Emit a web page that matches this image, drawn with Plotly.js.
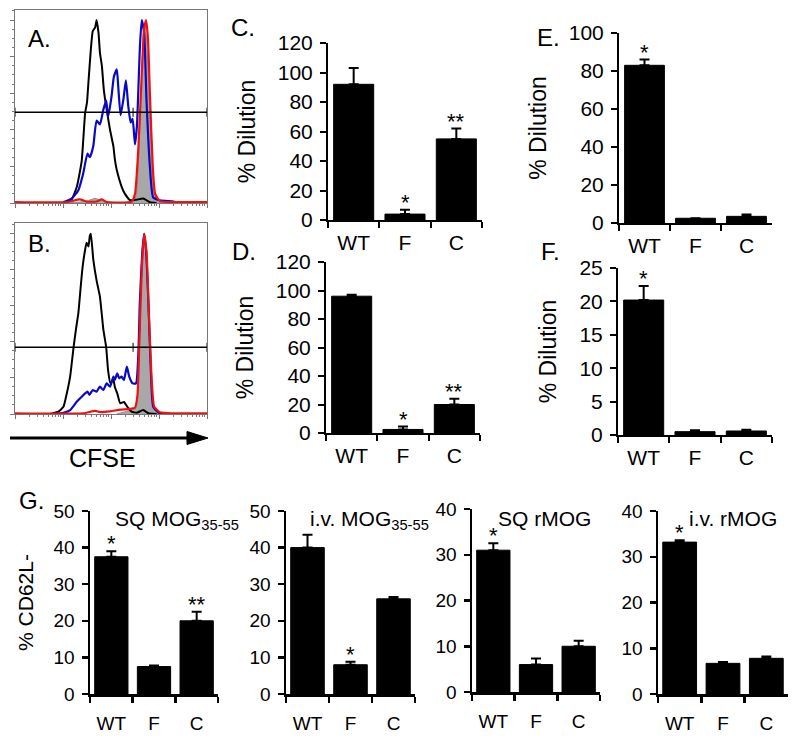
<!DOCTYPE html>
<html>
<head>
<meta charset="utf-8">
<script src="https://cdn.plot.ly/plotly-3.0.1.min.js"></script>
<style>
  html, body { margin: 0; padding: 0; background: #fff; }
  #chart { width: 800px; height: 742px; }
</style>
</head>
<body>
<div id="chart"></div>
<script>
const W = 800;
const H = 742;
const FONT = 'Liberation Sans, Arial, sans-serif';

// histogram traces, x in log10 decades of CFSE, y in % of max
const histA_black_x = [1.00, 1.18, 1.29, 1.39, 1.46, 1.50, 1.53, 1.58, 1.62, 1.67, 1.70, 1.74, 1.77, 1.81, 1.85, 1.91, 1.98, 2.05, 2.08, 2.12, 2.22, 2.29, 2.40, 2.53, 2.67, 2.81, 2.95];
const histA_black_y = [0, 2, 9, 23, 49, 55, 66, 84, 94, 96, 100, 93, 82, 75, 62, 51, 40, 31, 24, 18, 9, 5, 1.5, 1.8, 2.4, 0.5, 0];
const histA_blue_x = [1.01, 1.18, 1.32, 1.42, 1.51, 1.56, 1.63, 1.70, 1.77, 1.84, 1.90, 1.94, 2.01, 2.06, 2.12, 2.15, 2.20, 2.26, 2.31, 2.36, 2.41, 2.45, 2.50, 2.54, 2.57, 2.60, 2.64, 2.69, 2.74, 2.81, 2.88, 3.02, 3.30, 3.44];
const histA_blue_y = [0.5, 2.4, 7, 16, 27, 25, 31, 45, 43, 51, 56, 47, 58, 69, 73, 64, 48, 57, 67, 53, 44, 46, 32, 42, 62, 84, 100, 93, 56, 20, 3, 1.5, 0.8, 0];
const histA_red_x = [0, 1.08, 1.35, 1.49, 1.70, 1.81, 1.91, 2.43, 2.50, 2.57, 2.64, 2.69, 2.73, 2.77, 2.81, 2.87, 2.92, 3.02, 3.30, 4.0];
const histA_red_y = [0.5, 0.5, 2, 0.8, 0.8, 2, 0.5, 0.8, 5, 30, 70, 95, 100, 90, 60, 20, 5, 1, 0.5, 0.5];
const histA_gray_x = [1.08, 1.49, 1.67, 1.84, 2.47, 2.54, 2.59, 2.64, 2.68, 2.70, 2.74, 2.79, 2.85, 2.90, 2.99, 3.16];
const histA_gray_y = [0, 1, 2.5, 1, 0.5, 8, 35, 70, 95, 98, 90, 60, 20, 5, 0.5, 0];

const histB_black_x = [0.73, 0.90, 1.01, 1.08, 1.15, 1.22, 1.27, 1.32, 1.37, 1.41, 1.46, 1.49, 1.53, 1.56, 1.58, 1.63, 1.70, 1.77, 1.84, 1.90, 1.94, 1.99, 2.05, 2.08, 2.13, 2.19, 2.27, 2.34, 2.43, 2.54, 2.67, 2.78, 2.95];
const histB_black_y = [0, 1.3, 4, 11.5, 21, 37, 47, 56, 71, 82, 91, 95, 93, 99, 100, 86, 74, 65, 47, 37, 24, 17, 19, 15, 11.5, 6, 6.7, 4, 1.3, 0.7, 2.2, 0.4, 0];
const histB_blue_x = [0.80, 1.01, 1.15, 1.29, 1.39, 1.51, 1.55, 1.62, 1.70, 1.77, 1.84, 1.91, 1.98, 2.05, 2.08, 2.13, 2.17, 2.22, 2.27, 2.33, 2.38, 2.45, 2.52, 2.57, 2.60, 2.65, 2.69, 2.73, 2.78, 2.83, 2.88, 2.99, 3.16];
const histB_blue_y = [0, 0.7, 2.2, 6.9, 9.6, 12.4, 10.6, 13.3, 12.4, 15.2, 13.3, 17, 15.2, 20.7, 18.9, 22.6, 19.8, 20.7, 18.9, 26.3, 20.7, 17, 17, 33.7, 61.5, 89, 100, 91, 61.5, 24.4, 4, 0.7, 0];
const histB_red_x = [0, 1.42, 1.67, 1.77, 1.98, 2.19, 2.40, 2.50, 2.55, 2.59, 2.64, 2.69, 2.74, 2.79, 2.85, 2.90, 3.02, 3.30, 4.0];
const histB_red_y = [0.4, 0.4, 1.7, 1.1, 1.5, 2.4, 2.8, 3.5, 10, 40, 80, 100, 90, 55, 18, 4, 1, 0.4, 0.4];
const histB_gray_x = [2.12, 2.33, 2.50, 2.56, 2.60, 2.65, 2.69, 2.73, 2.78, 2.83, 2.88, 2.99, 3.16];
const histB_gray_y = [0, 1.5, 3, 12, 45, 85, 99, 92, 60, 22, 5, 0.5, 0];

// gate marker levels (% of max) and its middle tick (decade)
const gateLevels = [49.6, 37];
const gateMid = 2.46;

// bar panels
const genotypes = ['WT', 'F', 'C'];
const dilutionC = [92, 4, 55];
const dilutionCErr = [11, 3, 7];
const starsC = ['', '*', '**'];
const dilutionD = [96, 2.5, 20];
const dilutionDErr = [1, 2, 4];
const starsD = ['', '*', '**'];
const dilutionE = [83, 2.5, 3.5];
const dilutionEErr = [3, 0, 1];
const starsE = ['*', '', ''];
const dilutionF = [20.2, 0.5, 0.6];
const dilutionFErr = [2.1, 0.2, 0.2];
const starsF = ['*', '', ''];

const cd62SqPeptide = [37.5, 7.5, 20];
const cd62SqPeptideErr = [1.5, 0.3, 2.5];
const starsG1 = ['*', '', '**'];
const cd62IvPeptide = [40, 8, 26];
const cd62IvPeptideErr = [3.5, 0.8, 0.5];
const starsG2 = ['', '*', ''];
const cd62SqProtein = [31, 6, 10];
const cd62SqProteinErr = [1.5, 1.3, 1.2];
const starsG3 = ['*', '', ''];
const cd62IvProtein = [33.2, 6.7, 7.8];
const cd62IvProteinErr = [0.4, 0.3, 0.4];
const starsG4 = ['*', '', ''];

const px = (v) => v / W;
const py = (v) => 1 - v / H;

const data = [];
const layout = {
  width: W,
  height: H,
  margin: { l: 0, r: 0, t: 0, b: 0 },
  paper_bgcolor: '#ffffff',
  plot_bgcolor: '#ffffff',
  showlegend: false,
  font: { family: FONT, color: '#000' },
  annotations: [],
  shapes: []
};

function axisName(n, letter) {
  return n === 1 ? letter : letter + n;
}

// ---- histograms ----
const minorLog = [];
for (let d = 0; d < 4; d++) {
  for (let k = 2; k <= 9; k++) {
    minorLog.push(k * Math.pow(10, d));
  }
}

function addHistogram(n, curves, xPx, yPx, yMax, gate) {
  const xa = axisName(n, 'x');
  const ya = axisName(n, 'y');
  const toX = (arr) => arr.map((d) => Math.pow(10, d));

  data.push({
    type: 'scatter', mode: 'lines', xaxis: xa, yaxis: ya,
    x: toX(curves.gray[0]), y: curves.gray[1], fill: 'tozeroy',
    fillcolor: '#a8a8a8', line: { color: '#8c8c8c', width: 1, shape: 'spline', smoothing: 0.6 }
  });
  data.push({
    type: 'scatter', mode: 'lines', xaxis: xa, yaxis: ya,
    x: toX(curves.black[0]), y: curves.black[1],
    line: { color: '#000000', width: 2, shape: 'spline', smoothing: 0.4 }
  });
  data.push({
    type: 'scatter', mode: 'lines', xaxis: xa, yaxis: ya,
    x: toX(curves.blue[0]), y: curves.blue[1],
    line: { color: '#0808c8', width: 2.2, shape: 'spline', smoothing: 0.5 }
  });
  data.push({
    type: 'scatter', mode: 'lines', xaxis: xa, yaxis: ya,
    x: toX(curves.red[0]), y: curves.red[1],
    line: { color: '#f01010', width: 2.2, shape: 'spline', smoothing: 0.5 }
  });

  layout['xaxis' + (n === 1 ? '' : n)] = {
    domain: [px(xPx[0]), px(xPx[1])],
    anchor: ya,
    type: 'log',
    range: [0, 4],
    showline: true, mirror: true, linecolor: '#777', linewidth: 1,
    showgrid: false, zeroline: false,
    ticks: 'outside', ticklen: 4, tickcolor: '#777', tickwidth: 1,
    tickvals: [1, 10, 100, 1000, 10000],
    showticklabels: false,
    minor: { tickvals: minorLog, ticks: 'outside', ticklen: 2, tickcolor: '#777' },
    fixedrange: true
  };
  layout['yaxis' + (n === 1 ? '' : n)] = {
    domain: [py(yPx[1]), py(yPx[0])],
    anchor: xa,
    range: [0, yMax],
    showline: true, mirror: true, linecolor: '#777', linewidth: 1,
    showgrid: false, zeroline: false,
    ticks: 'outside', ticklen: 4, tickcolor: '#777',
    tickvals: [0, 20, 40, 60, 80, 100],
    showticklabels: false,
    minor: { dtick: 5, ticks: 'outside', ticklen: 2, tickcolor: '#777' },
    fixedrange: true
  };

  // gate marker
  layout.shapes.push({ type: 'line', xref: xa, yref: ya, x0: 1, x1: 10000, y0: gate, y1: gate, line: { color: '#000', width: 1.5 } });
  [1, Math.pow(10, gateMid), 10000].forEach((gx) => {
    layout.shapes.push({ type: 'line', xref: xa, yref: ya, x0: gx, x1: gx, y0: gate - 2.5, y1: gate + 2.5, line: { color: '#000', width: 1 } });
  });
}

addHistogram(1, {
  black: [histA_black_x, histA_black_y],
  blue: [histA_blue_x, histA_blue_y],
  red: [histA_red_x, histA_red_y],
  gray: [histA_gray_x, histA_gray_y]
}, [15, 207], [10, 203], 105.5, gateLevels[0]);

addHistogram(2, {
  black: [histB_black_x, histB_black_y],
  blue: [histB_blue_x, histB_blue_y],
  red: [histB_red_x, histB_red_y],
  gray: [histB_gray_x, histB_gray_y]
}, [15, 207], [223, 414], 106, gateLevels[1]);

// ---- bar panels ----
function addBars(n, p) {
  const xa = axisName(n, 'x');
  const ya = axisName(n, 'y');
  data.push({
    type: 'bar', xaxis: xa, yaxis: ya,
    x: genotypes, y: p.values, width: 0.78,
    marker: { color: '#000', line: { color: '#000', width: 1 } },
    error_y: {
      type: 'data', symmetric: false, array: p.errs, arrayminus: p.errs.map(() => 0),
      color: '#000', thickness: 2, width: p.capWidth
    }
  });

  layout['xaxis' + n] = {
    domain: [px(p.xPx[0]), px(p.xPx[1])],
    anchor: ya,
    type: 'category',
    range: [-0.5, 2.5],
    tickson: 'boundaries',
    ticks: 'outside', ticklen: p.ticklen, tickwidth: p.lineWidth, tickcolor: '#000',
    showline: true, linecolor: '#000', linewidth: p.lineWidth,
    showgrid: false, zeroline: false,
    tickfont: { family: FONT, size: p.tickSize, color: '#000' },
    ticklabelstandoff: p.xStandoff,
    fixedrange: true
  };
  const yaxis = {
    domain: [py(p.yPx[1]), py(p.yPx[0])],
    anchor: xa,
    range: [0, p.max],
    dtick: p.dtick,
    ticks: 'outside', ticklen: p.ticklen, tickwidth: p.lineWidth, tickcolor: '#000',
    showline: true, linecolor: '#000', linewidth: p.lineWidth,
    showgrid: false, zeroline: false,
    tickfont: { family: FONT, size: p.tickSize, color: '#000' },
    ticklabelstandoff: 3,
    fixedrange: true
  };
  if (p.title) {
    yaxis.title = { text: p.title, font: { family: FONT, size: p.titleSize, color: '#000' }, standoff: p.titleStandoff };
  }
  layout['yaxis' + n] = yaxis;

  p.stars.forEach((s, i) => {
    if (!s) return;
    layout.annotations.push({
      xref: xa, yref: ya, x: genotypes[i], y: p.values[i] + p.errs[i],
      text: s, showarrow: false, yanchor: 'bottom', yshift: -7,
      font: { family: FONT, size: p.starSize, color: '#000' }
    });
  });
}

const topPanel = { capWidth: 5, lineWidth: 2, ticklen: 6, tickSize: 21, xStandoff: 3, titleSize: 23, titleStandoff: 16, starSize: 22 };
addBars(3, Object.assign({}, topPanel, { values: dilutionC, errs: dilutionCErr, stars: starsC, xPx: [328, 482], yPx: [43, 220], max: 120, dtick: 20, title: '% Dilution' }));
addBars(4, Object.assign({}, topPanel, { values: dilutionD, errs: dilutionDErr, stars: starsD, xPx: [326, 480], yPx: [262, 433], max: 120, dtick: 20, title: '% Dilution' }));
addBars(5, Object.assign({}, topPanel, { values: dilutionE, errs: dilutionEErr, stars: starsE, xPx: [619, 772], yPx: [33, 223], max: 100, dtick: 20, title: '% Dilution' }));
addBars(6, Object.assign({}, topPanel, { values: dilutionF, errs: dilutionFErr, stars: starsF, xPx: [618, 772], yPx: [268, 435], max: 25, dtick: 5, title: '% Dilution' }));

const gPanel = { capWidth: 5, lineWidth: 2.5, ticklen: 6, tickSize: 19, xStandoff: 11, titleSize: 21, titleStandoff: 14, starSize: 22 };
addBars(7, Object.assign({}, gPanel, { values: cd62SqPeptide, errs: cd62SqPeptideErr, stars: starsG1, xPx: [90, 218], yPx: [511, 694], max: 50, dtick: 10, title: '% CD62L-' }));
addBars(8, Object.assign({}, gPanel, { values: cd62IvPeptide, errs: cd62IvPeptideErr, stars: starsG2, xPx: [286, 415], yPx: [511, 694], max: 50, dtick: 10 }));
addBars(9, Object.assign({}, gPanel, { values: cd62SqProtein, errs: cd62SqProteinErr, stars: starsG3, xPx: [472, 600], yPx: [509, 692], max: 40, dtick: 10 }));
addBars(10, Object.assign({}, gPanel, { values: cd62IvProtein, errs: cd62IvProteinErr, stars: starsG4, xPx: [658, 788], yPx: [511, 694], max: 40, dtick: 10 }));

// ---- text labels ----
function paperText(text, x, y, size, xanchor) {
  layout.annotations.push({
    xref: 'paper', yref: 'paper', x: px(x), y: py(y), text, showarrow: false,
    xanchor: xanchor || 'left', yanchor: 'middle',
    font: { family: FONT, size, color: '#000' }
  });
}

paperText('A.', 26, 39, 24);
paperText('B.', 26, 244, 24);
paperText('C.', 229, 27, 24);
paperText('D.', 230, 251, 24);
paperText('E.', 535, 37, 24);
paperText('F.', 539, 251, 24);
paperText('G.', 17, 500, 24);
paperText('CFSE', 102, 458, 25, 'center');

paperText('SQ MOG<sub>35-55</sub>', 113, 520, 21);
paperText('i.v. MOG<sub>35-55</sub>', 308, 520, 21);
paperText('SQ rMOG', 496, 518, 21);
paperText('i.v. rMOG', 687, 518, 21);

// CFSE arrow: shaft and filled head
layout.shapes.push({
  type: 'line', xref: 'paper', yref: 'paper',
  x0: px(10), x1: px(190), y0: py(438), y1: py(438),
  line: { color: '#000', width: 3 }
});
layout.shapes.push({
  type: 'path', xref: 'paper', yref: 'paper',
  path: `M ${px(187)} ${py(431.5)} L ${px(208)} ${py(438)} L ${px(187)} ${py(444.5)} Z`,
  fillcolor: '#000', line: { color: '#000', width: 1 }
});

Plotly.newPlot('chart', data, layout, { displayModeBar: false, staticPlot: true });
</script>
</body>
</html>
